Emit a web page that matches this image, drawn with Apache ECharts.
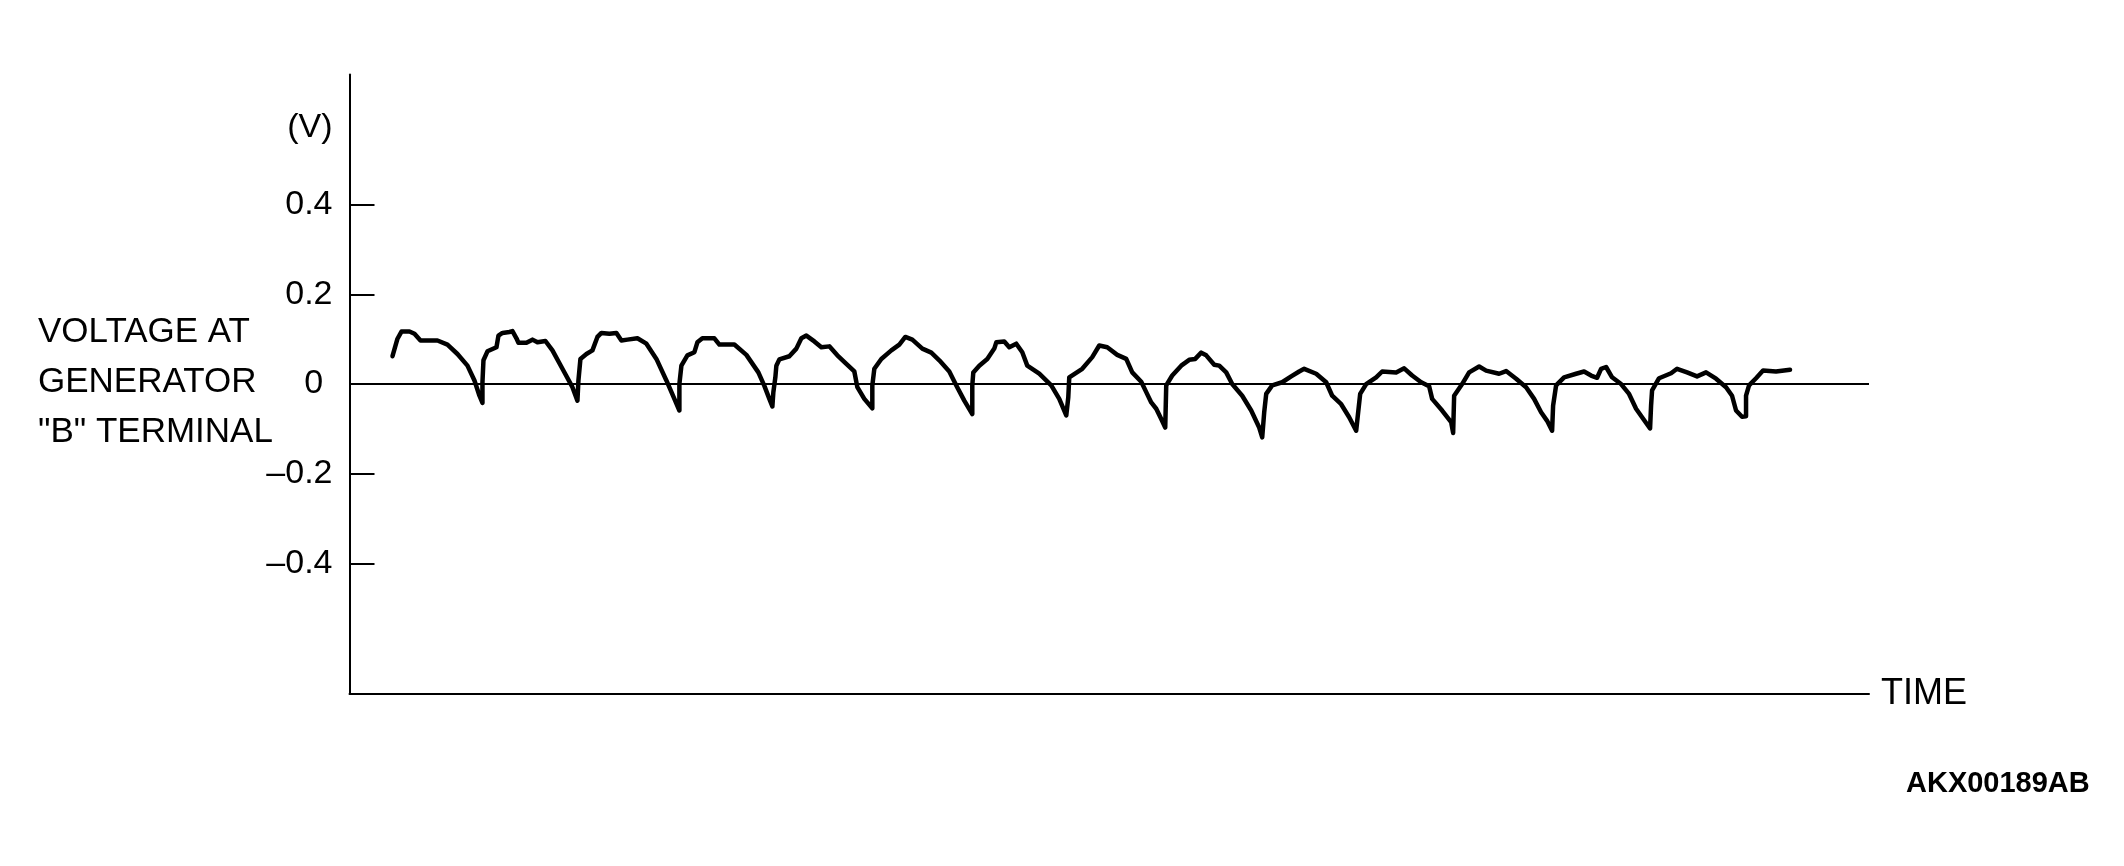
<!DOCTYPE html>
<html>
<head>
<meta charset="utf-8">
<script src="https://cdn.jsdelivr.net/npm/echarts@6/dist/echarts.min.js"></script>
<style>
  html, body { margin: 0; padding: 0; background: #fff; }
  #main { width: 2124px; height: 866px; }
</style>
</head>
<body>
<div id="main"></div>
<script>
// time positions of the trace (arbitrary units along the TIME axis)
var time = [
  43, 48, 52, 60, 65, 71, 80, 88, 98, 108, 118, 125, 130, 133, 133, 134,
  138, 147, 149, 153, 160, 163, 167, 169, 177, 183, 188, 196, 203, 213, 223, 228,
  229, 231, 237, 243, 248, 252, 260, 267, 272, 278, 288, 297, 307, 317, 325, 330,
  330, 332, 338, 345, 348, 353, 365, 370, 385, 397, 409, 415, 420, 423, 424, 426,
  427, 430, 440, 447, 452, 457, 465, 472, 480, 488, 497, 505, 508, 515, 523, 523,
  525, 532, 542, 550, 556, 563, 573, 582, 590, 600, 607, 615, 623, 623, 624, 630,
  638, 645, 647, 655, 660, 667, 673, 678, 690, 702, 710, 717, 719, 720, 733, 743,
  750, 758, 768, 777, 783, 792, 797, 802, 807, 812, 816, 817, 823, 832, 840, 846,
  852, 857, 865, 870, 877, 883, 893, 902, 910, 913, 915, 917, 923, 933, 942, 950,
  955, 967, 977, 983, 992, 1000, 1007, 1009, 1011, 1017, 1027, 1033, 1047, 1055, 1063, 1072,
  1080, 1083, 1093, 1102, 1104, 1105, 1113, 1120, 1130, 1137, 1150, 1157, 1167, 1177, 1185, 1192,
  1198, 1203, 1204, 1207, 1215, 1227, 1235, 1242, 1248, 1252, 1257, 1263, 1272, 1280, 1287, 1293,
  1301, 1302, 1303, 1310, 1322, 1328, 1338, 1348, 1357, 1367, 1377, 1383, 1387, 1393, 1397, 1397,
  1400, 1407, 1414, 1427, 1441
];
// voltage at generator "B" terminal (V)
var volts = [
  0.062, 0.101, 0.117, 0.117, 0.112, 0.097, 0.097, 0.097, 0.088, 0.067, 0.041, 0.008, -0.026, -0.042, 0.004, 0.053,
  0.073, 0.082, 0.108, 0.114, 0.116, 0.118, 0.102, 0.092, 0.092, 0.099, 0.093, 0.096, 0.075, 0.034, -0.007, -0.037,
  0.008, 0.056, 0.067, 0.075, 0.105, 0.114, 0.112, 0.114, 0.097, 0.099, 0.102, 0.090, 0.056, 0.008, -0.033, -0.059,
  0.000, 0.041, 0.064, 0.071, 0.093, 0.102, 0.102, 0.088, 0.088, 0.065, 0.026, -0.004, -0.033, -0.050, -0.018, 0.015,
  0.041, 0.055, 0.062, 0.079, 0.102, 0.108, 0.095, 0.082, 0.084, 0.064, 0.045, 0.028, -0.007, -0.033, -0.054, -0.003,
  0.034, 0.056, 0.075, 0.088, 0.105, 0.099, 0.079, 0.070, 0.053, 0.028, -0.003, -0.037, -0.067, -0.003, 0.026, 0.041,
  0.056, 0.079, 0.093, 0.095, 0.082, 0.090, 0.071, 0.041, 0.023, -0.003, -0.033, -0.070, -0.030, 0.015, 0.034, 0.060,
  0.086, 0.082, 0.065, 0.056, 0.026, 0.005, -0.018, -0.041, -0.055, -0.078, -0.097, -0.003, 0.019, 0.041, 0.054, 0.056,
  0.070, 0.064, 0.043, 0.041, 0.026, 0.000, -0.026, -0.059, -0.097, -0.119, -0.063, -0.022, -0.003, 0.004, 0.017, 0.028,
  0.034, 0.023, 0.004, -0.026, -0.045, -0.074, -0.104, -0.063, -0.022, 0.000, 0.015, 0.028, 0.026, 0.035, 0.019, 0.004,
  -0.005, -0.033, -0.059, -0.085, -0.109, -0.026, 0.000, 0.026, 0.039, 0.030, 0.023, 0.029, 0.012, -0.007, -0.033, -0.063,
  -0.082, -0.104, -0.048, -0.003, 0.015, 0.023, 0.028, 0.019, 0.014, 0.034, 0.038, 0.015, 0.000, -0.022, -0.055, -0.074,
  -0.099, -0.048, -0.014, 0.013, 0.024, 0.034, 0.026, 0.017, 0.026, 0.012, -0.007, -0.026, -0.059, -0.073, -0.072, -0.026,
  -0.003, 0.013, 0.030, 0.028, 0.032
];
// y axis tick values and labels ("(V)" sits where the 0.57 label would be)
var tickValues = [-0.4, -0.2, 0.2, 0.4];
var labelValues = [-0.4, -0.2, 0, 0.2, 0.4, 0.572];

var font = '"Liberation Sans", Arial, Helvetica, sans-serif';
var chart = echarts.init(document.getElementById('main'), null, { renderer: 'canvas' });

var points = time.map(function (t, i) { return [t, volts[i]]; });

chart.setOption({
  animation: false,
  backgroundColor: '#ffffff',
  title: [
    {
      text: 'VOLTAGE AT\nGENERATOR\n"B" TERMINAL',
      left: 38,
      top: 307,
      padding: 0,
      textStyle: { fontFamily: font, fontSize: 35, fontWeight: 'normal', color: '#000', lineHeight: 50 }
    },
    {
      text: 'AKX00189AB',
      left: 1906,
      top: 769,
      padding: 0,
      textStyle: { fontFamily: font, fontSize: 29, fontWeight: 'bold', color: '#000', lineHeight: 30 }
    }
  ],
  grid: { left: 349.5, right: 255, top: 74.5, bottom: 172.4, containLabel: false },
  xAxis: {
    type: 'value',
    min: 0,
    max: 1520,
    name: 'TIME',
    nameLocation: 'end',
    nameGap: 12,
    nameTextStyle: { fontFamily: font, fontSize: 36, color: '#000', verticalAlign: 'middle', padding: [4, 0, 0, 0] },
    axisLine: { show: true, onZero: false, lineStyle: { color: '#000', width: 2 } },
    axisTick: { show: false },
    axisLabel: { show: false },
    splitLine: { show: false }
  },
  yAxis: {
    type: 'value',
    min: -0.69,
    max: 0.69,
    axisLine: { show: true, onZero: false, lineStyle: { color: '#000', width: 2 } },
    axisTick: {
      show: true,
      inside: true,
      length: 25,
      customValues: tickValues,
      lineStyle: { color: '#000', width: 2 }
    },
    axisLabel: {
      show: true,
      margin: 17,
      customValues: labelValues,
      fontFamily: font,
      fontSize: 34,
      color: '#000',
      formatter: function (v) {
        if (v > 0.5) return '(V)';
        if (v === 0) return '0 ';
        var s = Math.abs(v).toFixed(1);
        return v < 0 ? '\u2013' + s : s;
      }
    },
    splitLine: { show: false }
  },
  series: [
    {
      type: 'line',
      data: points,
      showSymbol: false,
      symbol: 'none',
      silent: true,
      lineStyle: { color: '#000', width: 4.5, join: 'round', cap: 'round' },
      markLine: {
        silent: true,
        symbol: ['none', 'none'],
        label: { show: false },
        lineStyle: { color: '#000', width: 2, type: 'solid' },
        data: [{ yAxis: 0 }]
      },
      z: 3
    }
  ]
});
</script>
</body>
</html>
